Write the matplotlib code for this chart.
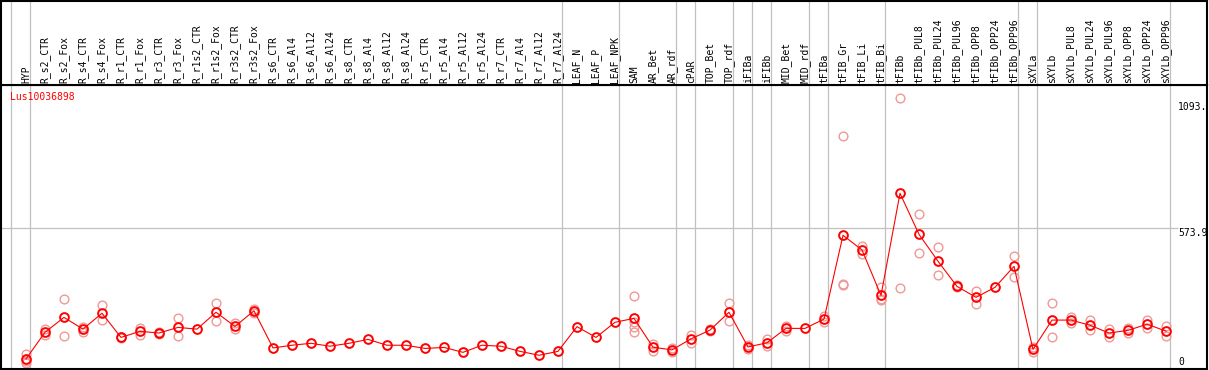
import numpy as np
import matplotlib
matplotlib.use("Agg")
import matplotlib.pyplot as plt

# sample names along the top
categories = ["HYP", "R_s2_CTR", "R_s2_Fox", "R_s4_CTR", "R_s4_Fox", "R_r1_CTR", "R_r1_Fox",
              "R_r3_CTR", "R_r3_Fox", "R_r1s2_CTR", "R_r1s2_Fox", "R_r3s2_CTR", "R_r3s2_Fox",
              "R_s6_CTR", "R_s6_Al4", "R_s6_Al12", "R_s6_Al24", "R_s8_CTR", "R_s8_Al4",
              "R_s8_Al12", "R_s8_Al24", "R_r5_CTR", "R_r5_Al4", "R_r5_Al12", "R_r5_Al24",
              "R_r7_CTR", "R_r7_Al4", "R_r7_Al12", "R_r7_Al24", "LEAF_N", "LEAF_P", "LEAF_NPK",
              "SAM", "AR_Bet", "AR_rdf", "cPAR", "TOP_Bet", "TOP_rdf", "iFIBa", "iFIBb",
              "MID_Bet", "MID_rdf", "tFIBa", "tFIB_Gr", "tFIB_Li", "tFIB_Bi", "tFIBb",
              "tFIBb_PUL8", "tFIBb_PUL24", "tFIBb_PUL96", "tFIBb_OPP8", "tFIBb_OPP24",
              "tFIBb_OPP96", "sXYLa", "sXYLb", "sXYLb_PUL8", "sXYLb_PUL24", "sXYLb_PUL96",
              "sXYLb_OPP8", "sXYLb_OPP24", "sXYLb_OPP96"]

# mean expression per sample
means = [40, 149, 210, 162, 227, 128, 153, 146, 169, 162, 231, 173, 237,
         85, 96, 104, 92, 104, 120, 96, 96, 83, 87, 67, 96, 92, 71, 55, 71,
         172, 128, 190, 206, 88, 77, 122, 158, 231, 89, 106, 165, 165, 203,
         546, 486, 300, 718, 550, 440, 337, 292, 333, 419,
         79, 199, 199, 178, 146, 157, 182, 154]

# individual replicates
replicates = [[62, 30, 22], [161, 137], [284, 135], [172, 150], [259, 198], [131, 124],
              [168, 137], [149, 143], [206, 135], [], [268, 194], [186, 162], [246, 229],
              [], [], [], [], [], [], [], [], [], [], [], [], [], [], [], [],
              [], [], [],
              [298, 192, 172, 151], [101, 74], [84, 70], [137, 107], [162, 155], [268, 194],
              [96, 82], [121, 92], [176, 154], [], [216, 190],
              [952, 347, 341], [504, 468], [333, 287, 280], [1107, 329],
              [632, 472], [497, 382], [341, 333], [319, 265], [], [460, 376],
              [90, 70], [268, 131], [210, 188], [199, 157], [161, 131], [168, 146],
              [199, 165], [175, 133]]

# last sample of each group (-1 = before first)
group_ends = [-1, 0, 28, 31, 34, 35, 37, 38, 39, 41, 42, 45, 52, 53, 60]

gene = "Lus10036898"
y_labels = [1093.0, 573.9]

W, H = 1209, 370
fig = plt.figure(figsize=(W / 100, H / 100), dpi=100)

# pixel geometry of the original
x0px, dxpx = 26, 19
left_px, right_px = 1, 1207
head_px = 85
bot_px = 369
zero_px, scale = 368.7, 0.2443

xl = ((left_px - x0px) / dxpx, (right_px - x0px) / dxpx)

ax = fig.add_axes([left_px / W, (H - bot_px) / H, (right_px - left_px) / W, (bot_px - head_px) / H])
hx = fig.add_axes([left_px / W, (H - head_px) / H, (right_px - left_px) / W, (head_px - 1) / H])

for a in (ax, hx):
    a.set_xlim(*xl)
    a.set_xticks([])
    a.set_yticks([])
    for s in a.spines.values():
        s.set_color("black")
        s.set_linewidth(1.5)
    for g in group_ends:
        a.axvline(g + 0.21, color="#c0c0c0", lw=0.9, zorder=0)

ax.set_ylim((zero_px - bot_px) / scale, (zero_px - head_px) / scale)
hx.set_ylim(0, 1)

x = np.arange(len(categories))
ax.hlines(y_labels[1], xl[0], (1178 - x0px) / dxpx, color="#c0c0c0", lw=0.9, zorder=0)

rx, ry = [], []
for i, reps in enumerate(replicates):
    for r in reps:
        rx.append(i)
        ry.append(r)
ax.plot(rx, ry, linestyle="none", marker="o", markersize=6.3, markerfacecolor="none",
        markeredgecolor="#f09898", markeredgewidth=1.0, zorder=2)
ax.plot(x, means, color="red", lw=0.8, marker="o", markersize=6.3, markerfacecolor="none",
        markeredgecolor="red", markeredgewidth=1.4, zorder=3)

mono = "DejaVu Sans Mono"
for i, c in enumerate(categories):
    hx.text(i, 2 / 84, c, rotation=90, ha="center", va="bottom", fontsize=7, family=mono)

ax.text(xl[0] + 9 / dxpx, (zero_px - 97) / scale, gene, color="red", fontsize=7,
        family=mono, va="center", ha="left")

xr = (1178 - x0px) / dxpx
ax.text(xr, y_labels[0], "%.0f." % y_labels[0], fontsize=7, family=mono, va="top", ha="left", clip_on=True)
ax.text(xr, y_labels[1], "%.1f" % y_labels[1], fontsize=7, family=mono, va="top", ha="left", clip_on=True)
ax.text(xr, (zero_px - 362) / scale, "0", fontsize=7, family=mono, va="center", ha="left")

fig.savefig("out.png", dpi=100)
